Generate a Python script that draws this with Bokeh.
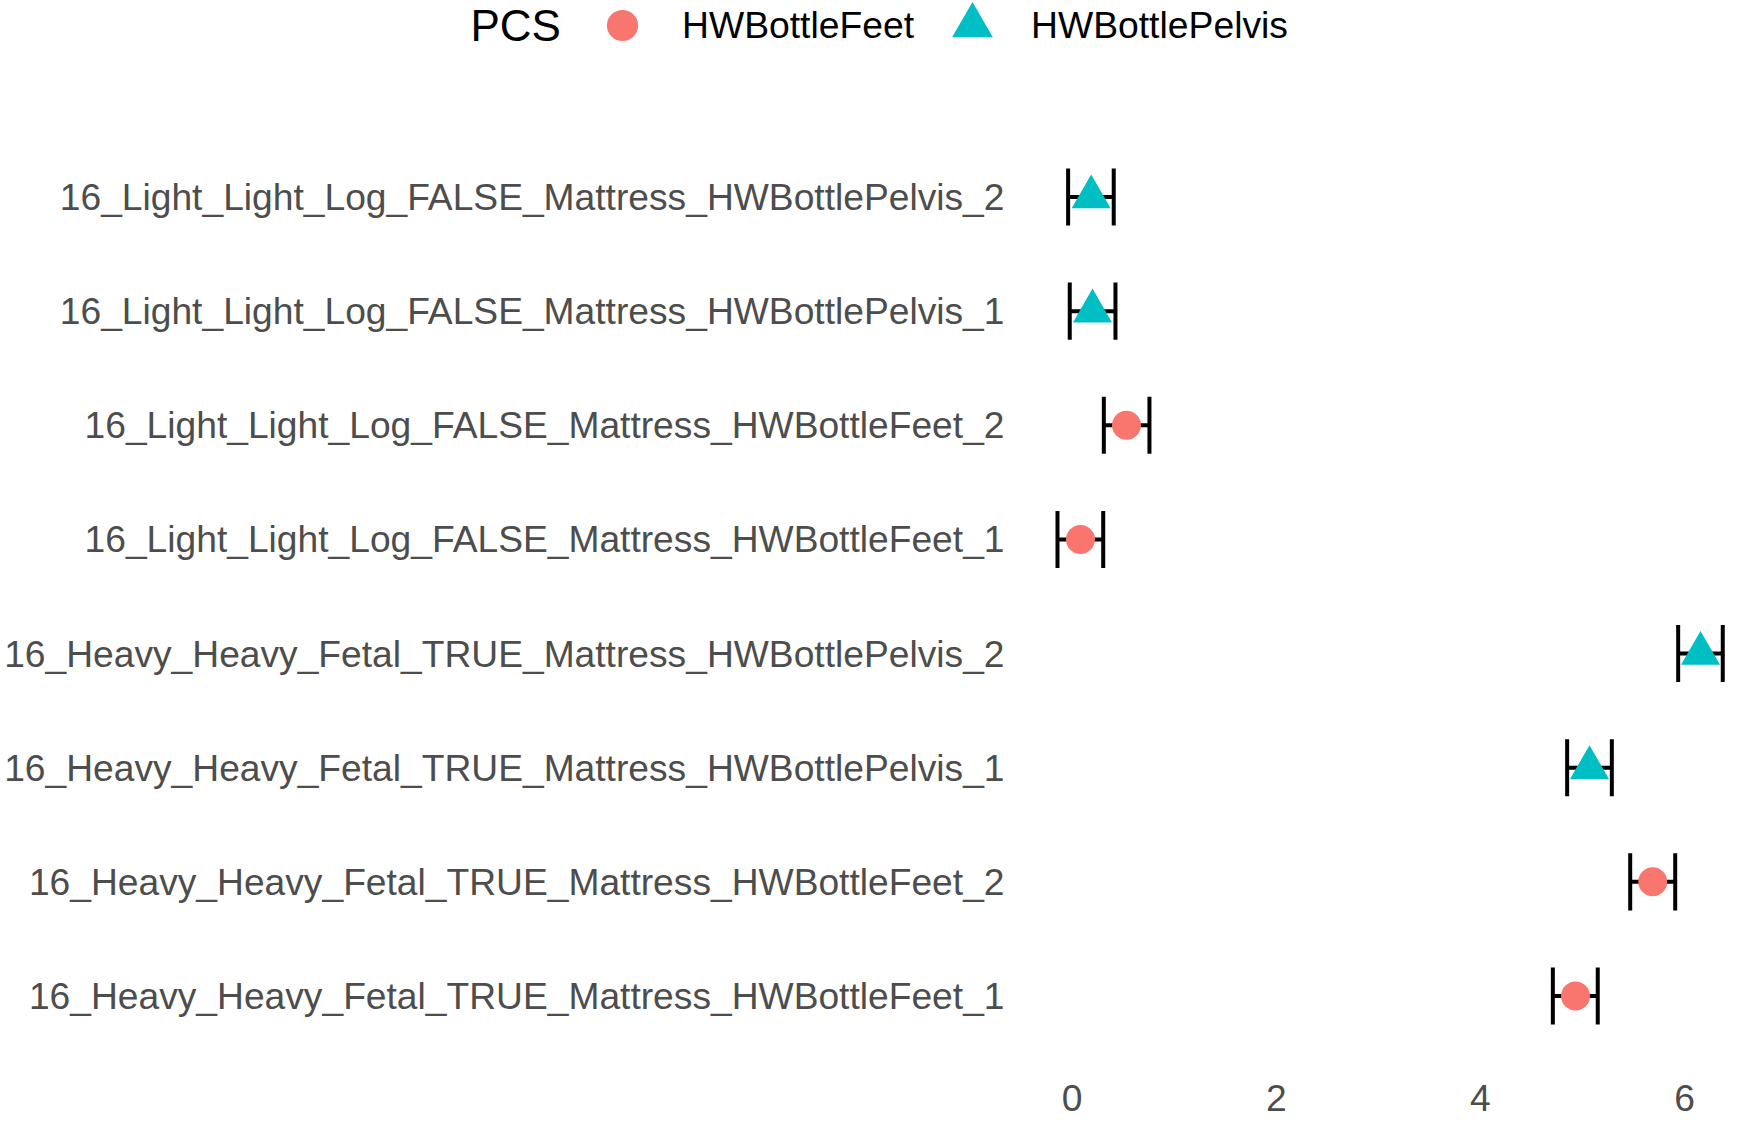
from bokeh.plotting import figure
from bokeh.layouts import column
from bokeh.models import Range1d, FixedTicker, Legend, LegendItem, Label, ColumnDataSource
from bokeh.embed import file_html
from bokeh.resources import INLINE

# Data (bottom to top)
labels = [
    "16_Heavy_Heavy_Fetal_TRUE_Mattress_HWBottleFeet_1",
    "16_Heavy_Heavy_Fetal_TRUE_Mattress_HWBottleFeet_2",
    "16_Heavy_Heavy_Fetal_TRUE_Mattress_HWBottlePelvis_1",
    "16_Heavy_Heavy_Fetal_TRUE_Mattress_HWBottlePelvis_2",
    "16_Light_Light_Log_FALSE_Mattress_HWBottleFeet_1",
    "16_Light_Light_Log_FALSE_Mattress_HWBottleFeet_2",
    "16_Light_Light_Log_FALSE_Mattress_HWBottlePelvis_1",
    "16_Light_Light_Log_FALSE_Mattress_HWBottlePelvis_2",
]
pcs = ["HWBottleFeet", "HWBottleFeet", "HWBottlePelvis", "HWBottlePelvis",
       "HWBottleFeet", "HWBottleFeet", "HWBottlePelvis", "HWBottlePelvis"]
estimate = [4.932, 5.689, 5.069, 6.157, 0.081, 0.532, 0.199, 0.186]
lower = [4.710, 5.468, 4.850, 5.938, -0.144, 0.31, -0.024, -0.04]
upper = [5.150, 5.909, 5.288, 6.375, 0.304, 0.757, 0.424, 0.407]
x_ticks = [0, 2, 4, 6]
legend_title = "PCS"
groups = ["HWBottleFeet", "HWBottlePelvis"]
colors = {"HWBottleFeet": "#F8766D", "HWBottlePelvis": "#00BFC4"}
markers = {"HWBottleFeet": "circle", "HWBottlePelvis": "triangle"}

W, H = 1756, 1124
TOP = 128
FL = 1024

# ---------- main plot ----------
p = figure(width=W, height=H - TOP, output_backend="svg", toolbar_location=None,
           x_range=Range1d(-0.4674, 6.637), y_range=Range1d(0.4, 8.6),
           min_border_left=FL, min_border_right=7, min_border_top=0, min_border_bottom=60)
p.frame_align = False
p.outline_line_color = None
p.xgrid.visible = False
p.ygrid.visible = False

ypos = list(range(1, len(labels) + 1))
src = ColumnDataSource(dict(y=ypos, est=estimate, lo=lower, hi=upper, pcs=pcs,
                            y0=[v - 0.25 for v in ypos], y1=[v + 0.25 for v in ypos]))

p.segment(x0="lo", x1="hi", y0="y", y1="y", source=src, line_color="black", line_width=4)
p.segment(x0="lo", x1="lo", y0="y0", y1="y1", source=src, line_color="black", line_width=4)
p.segment(x0="hi", x1="hi", y0="y0", y1="y1", source=src, line_color="black", line_width=4)

msize = {"circle": 29, "triangle": 39}
for g in groups:
    idx = [i for i, v in enumerate(pcs) if v == g]
    p.scatter(x=[estimate[i] for i in idx], y=[ypos[i] for i in idx],
              marker=markers[g], size=msize[markers[g]], fill_color=colors[g], line_color=None)

p.xaxis.ticker = FixedTicker(ticks=x_ticks)
p.yaxis.ticker = FixedTicker(ticks=ypos)
p.yaxis.major_label_overrides = {y: lab for y, lab in zip(ypos, labels)}
for ax in (p.xaxis[0], p.yaxis[0]):
    ax.axis_line_color = None
    ax.major_tick_line_color = None
    ax.minor_tick_line_color = None
    ax.major_tick_out = 0
    ax.major_tick_in = 0
    ax.minor_tick_out = 0
    ax.minor_tick_in = 0
    ax.major_label_text_font = "Liberation Sans"
    ax.major_label_text_font_size = "37.2px"
    ax.major_label_text_color = "#4D4D4D"
p.yaxis.major_label_standoff = 20
p.xaxis.major_label_standoff = 20

# ---------- legend strip ----------
t = figure(width=W, height=TOP, output_backend="svg", toolbar_location=None,
           x_range=Range1d(0, W), y_range=Range1d(0, TOP),
           x_axis_type=None, y_axis_type=None,
           min_border_left=0, min_border_right=0, min_border_top=0, min_border_bottom=0)
t.frame_align = False
t.outline_line_color = None
t.xgrid.visible = False
t.ygrid.visible = False

leg_box = {"HWBottleFeet": 78, "HWBottlePelvis": 102}
leg_cx = {"HWBottleFeet": 622, "HWBottlePelvis": 972}
leg_standoff = {"HWBottleFeet": 21, "HWBottlePelvis": 8}
CY = 25
for g in groups:
    r = t.scatter(x=[float("nan")], y=[float("nan")], marker=markers[g],
                  fill_color=colors[g], line_color=None)
    box = leg_box[g]
    lg = Legend(items=[LegendItem(label=g, renderers=[r])],
                orientation="horizontal", padding=0, margin=0, spacing=0,
                glyph_width=box, glyph_height=box, label_standoff=leg_standoff[g],
                label_text_font="Liberation Sans", label_text_font_size="37.3px",
                label_text_color="black", border_line_color=None,
                background_fill_alpha=0, label_height=box)
    lg.location = (leg_cx[g] - box / 2, TOP - (CY + box / 2))
    t.add_layout(lg, "center")

t.add_layout(Label(x=470, y=TOP - CY, x_units="screen", y_units="screen", text=legend_title,
                   text_font="Liberation Sans", text_font_size="44px", text_color="black",
                   text_baseline="middle", text_align="left"))

layout = column(t, p, spacing=0)
open("out.html", "w").write(file_html(layout, INLINE))
